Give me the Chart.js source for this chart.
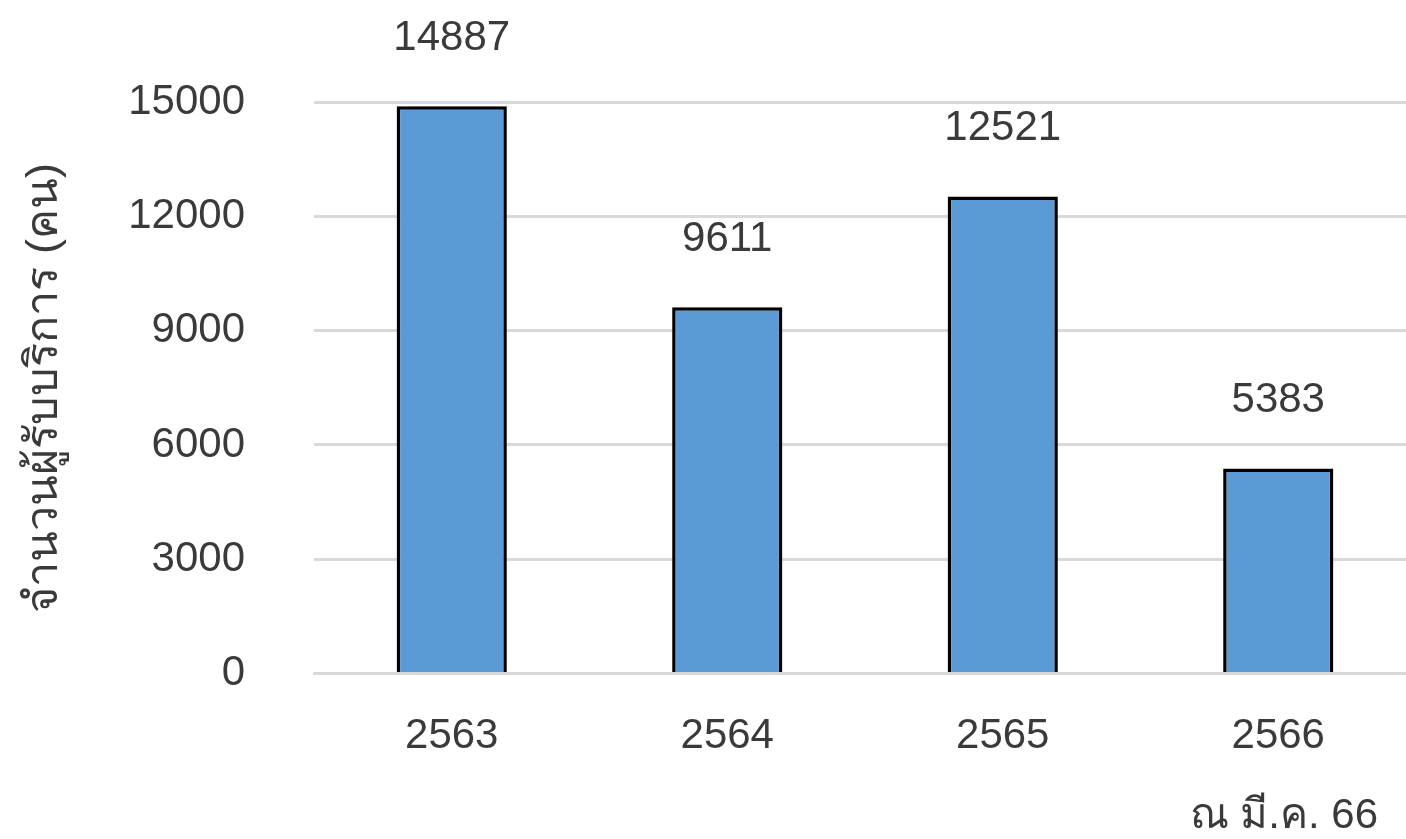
<!DOCTYPE html>
<html>
<head>
<meta charset="utf-8">
<script src="https://cdn.jsdelivr.net/npm/chart.js@4/dist/chart.umd.min.js"></script>
<style>
  html, body { margin: 0; padding: 0; background: #fff; overflow: hidden; }
  #wrap { width: 1416px; height: 839px; position: relative; }
</style>
</head>
<body>
<div id="wrap"><canvas id="chart"></canvas></div>
<script>
// data
const years = ["2563", "2564", "2565", "2566"];
const clients = [14887, 9611, 12521, 5383];
const yTitle = "จำนวนผู้รับบริการ (คน)";
const footNote = "ณ มี.ค. 66";

const FONT = "'Liberation Sans', 'Noto Sans', sans-serif";
const TEXT = "#3a3a3a";

// label di atas bar
const valueLabels = {
  id: "valueLabels",
  afterDatasetsDraw(chart) {
    const ctx = chart.ctx;
    const meta = chart.getDatasetMeta(0);
    ctx.save();
    ctx.font = "42px " + FONT;
    ctx.fillStyle = TEXT;
    ctx.textAlign = "center";
    ctx.textBaseline = "middle";
    meta.data.forEach((bar, i) => {
      ctx.fillText(String(clients[i]), bar.x, bar.y - 68);
    });
    ctx.restore();
  },
};

// catatan di pojok kanan bawah
const footNotePlugin = {
  id: "footNote",
  afterDraw(chart) {
    const ctx = chart.ctx;
    ctx.save();
    ctx.font = "42px " + FONT;
    ctx.fillStyle = TEXT;
    ctx.textAlign = "right";
    ctx.textBaseline = "middle";
    ctx.fillText(footNote, 1378, 816);
    ctx.restore();
  },
};

const chart = new Chart(document.getElementById("chart").getContext("2d"), {
  type: "bar",
  data: {
    labels: years,
    datasets: [
      {
        data: clients,
        backgroundColor: "#5B9BD5",
        borderColor: "#000000",
        borderWidth: 3.5,
        borderSkipped: "bottom",
        barPercentage: 0.4,
        categoryPercentage: 1,
      },
    ],
  },
  options: {
    responsive: true,
    maintainAspectRatio: false,
    animation: false,
    layout: { padding: { top: 102, bottom: 39, left: 0, right: 0 } },
    plugins: {
      legend: { display: false },
      tooltip: { enabled: false },
    },
    scales: {
      x: {
        grid: { display: false, drawTicks: false },
        border: { display: true, color: "#d9d9d9", width: 3 },
        ticks: {
          padding: 38,
          color: TEXT,
          font: { family: FONT, size: 42 },
        },
      },
      y: {
        min: 0,
        max: 15000,
        afterFit(scale) {
          scale.width = 314;
        },
        grid: { color: "#d9d9d9", lineWidth: 3, drawTicks: false },
        border: { display: false },
        ticks: {
          stepSize: 3000,
          padding: 69,
          color: TEXT,
          font: { family: FONT, size: 42 },
          callback: (v) => String(v),
        },
        title: {
          display: true,
          text: yTitle,
          color: TEXT,
          padding: { top: 18, bottom: 0 },
          font: { family: FONT, size: 45 },
        },
      },
    },
  },
  plugins: [valueLabels, footNotePlugin],
});
</script>
</body>
</html>
